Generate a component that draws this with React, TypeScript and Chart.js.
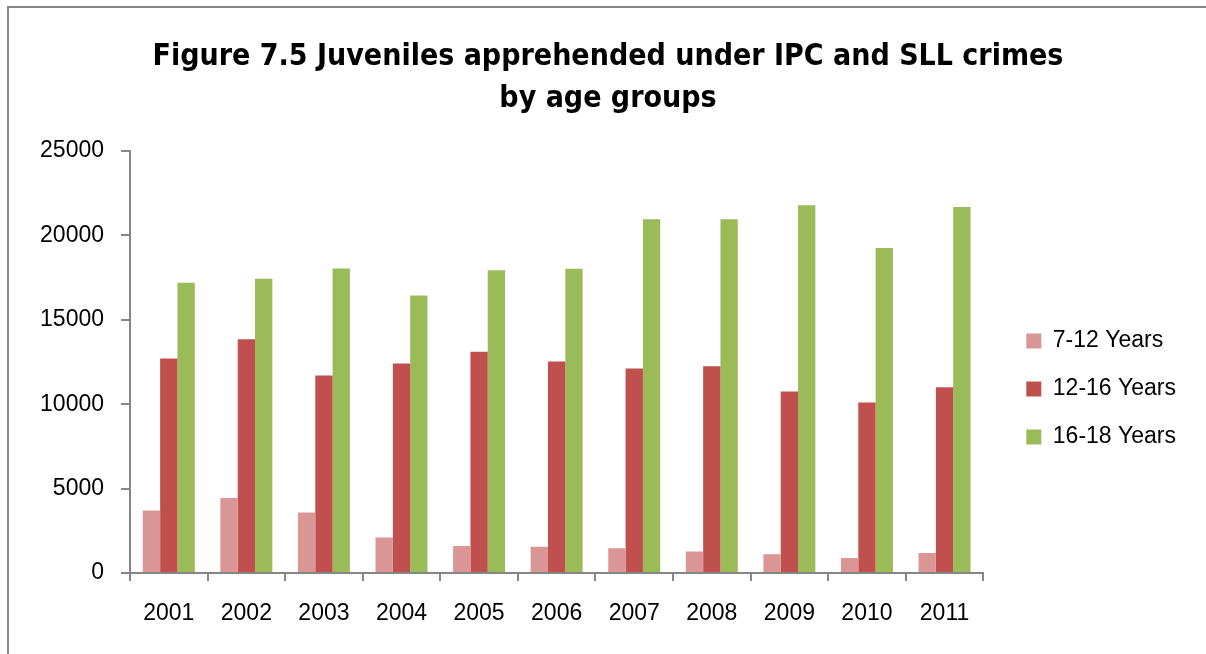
import React, { useEffect, useRef } from "react";
import { Chart, registerables } from "chart.js";

Chart.register(...registerables);

const years = ["2001", "2002", "2003", "2004", "2005", "2006", "2007", "2008", "2009", "2010", "2011"];
const age7to12 = [3700, 4450, 3580, 2100, 1600, 1560, 1460, 1270, 1110, 890, 1190];
const age12to16 = [12710, 13850, 11700, 12410, 13100, 12530, 12110, 12250, 10750, 10100, 11010];
const age16to18 = [17190, 17430, 18040, 16440, 17940, 18020, 20950, 20950, 21780, 19250, 21680];
const seriesLabels = ["7-12 Years", "12-16 Years", "16-18 Years"];
const titleLines = ["Figure 7.5 Juveniles apprehended under IPC and SLL crimes", "by age groups"];

const W = 1206;
const H = 654;

const boxShift = {
  id: "boxShift",
  afterLayout(chart: any) {
    const lg = chart.legend;
    if (lg) {
      lg.left += 18;
      lg.right += 18;
    }
    const tt = chart.titleBlock;
    if (tt) {
      tt.left += 24;
      tt.right += 24;
    }
  },
};

export default function App() {
  const ref = useRef<HTMLCanvasElement | null>(null);

  useEffect(() => {
    if (!ref.current) return;
    const axisColor = "#868686";
    const tickFont = { family: "'Liberation Sans', Arial, sans-serif", size: 23 };
    const chart = new Chart(ref.current, {
      type: "bar",
      data: {
        labels: years,
        datasets: [
          { label: seriesLabels[0], data: age7to12, backgroundColor: "#D99694", borderWidth: 0 },
          { label: seriesLabels[1], data: age12to16, backgroundColor: "#C0504D", borderWidth: 0 },
          { label: seriesLabels[2], data: age16to18, backgroundColor: "#9BBB59", borderWidth: 0 },
        ],
      },
      plugins: [boxShift],
      options: {
        responsive: false,
        animation: false,
        devicePixelRatio: 1,
        layout: { padding: { left: 0, right: 38, top: 36, bottom: 0 } },
        datasets: { bar: { categoryPercentage: 0.67, barPercentage: 1 } },
        plugins: {
          tooltip: { enabled: false },
          title: {
            display: true,
            text: titleLines,
            color: "#000",
            font: { family: "'DejaVu Sans Condensed', 'Liberation Sans Narrow', sans-serif", size: 30, weight: "bold", lineHeight: 1.4 },
            padding: { top: 0, bottom: 31 },
          },
          legend: {
            display: true,
            position: "right",
            align: "center",
            title: { display: true, text: " ", padding: { top: 87, bottom: 0 }, font: { size: 1 } },
            labels: {
              color: "#000",
              font: tickFont,
              boxWidth: 15,
              boxHeight: 15,
              padding: 25,
            },
          },
        },
        scales: {
          x: {
            grid: { display: true, drawOnChartArea: false, drawTicks: true, tickLength: 8, color: axisColor, lineWidth: 2, offset: true },
            border: { display: true, color: axisColor, width: 2 },
            ticks: { color: "#000", font: tickFont, padding: 19, maxRotation: 0 },
            afterFit: (s: any) => { s.height = 81; },
          },
          y: {
            min: 0,
            max: 25000,
            ticks: { stepSize: 5000, color: "#000", font: tickFont, padding: 17, callback: (v: any) => String(v) },
            grid: { display: true, drawOnChartArea: false, drawTicks: true, tickLength: 9, color: axisColor, lineWidth: 2 },
            border: { display: true, color: axisColor, width: 2 },
            afterFit: (s: any) => { s.width = 130; },
          },
        },
      },
    });
    return () => chart.destroy();
  }, []);

  return (
    <div style={{ position: "absolute", left: 0, top: 0, width: W, height: H, background: "#fff", overflow: "hidden" }}>
      <div style={{ position: "absolute", left: 7, top: 6, right: 0, bottom: 0, borderLeft: "2px solid #888", borderTop: "2px solid #888" }} />
      <canvas ref={ref} width={W} height={H} style={{ position: "absolute", left: 0, top: 0, width: W, height: H }} />
    </div>
  );
}
